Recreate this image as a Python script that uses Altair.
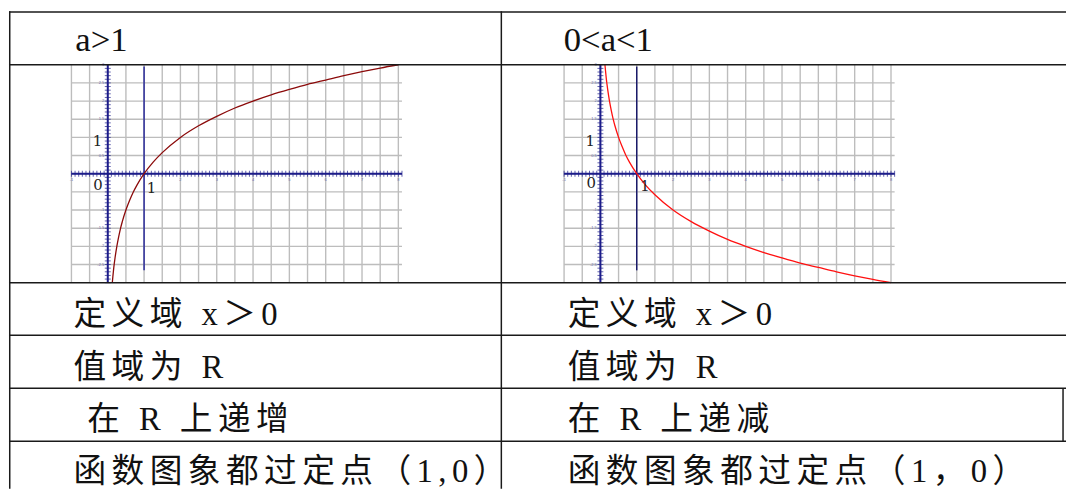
import altair as alt
import pandas as pd

# ---------------- data ----------------
headers = ["a>1", "0<a<1"]
domain_text = ["定义域 x＞0", "定义域 x＞0"]
range_text = ["值域为 R", "值域为 R"]
mono_text = ["在 R 上递增", "在 R 上递减"]
point_text = ["函数图象都过定点（1,0）", "函数图象都过定点（1，0）"]

curve_x = [0.125, 0.14, 0.16, 0.18, 0.2, 0.25, 0.3, 0.35, 0.4, 0.5, 0.6, 0.7, 0.8,
           1.0, 1.25, 1.5, 2.0, 2.5, 3.0, 3.5, 4.0, 4.5, 5.0, 5.5, 6.0, 6.5, 7.0, 7.5, 8.0]
inc_y = [-3.0, -2.84, -2.64, -2.47, -2.32, -2.0, -1.74, -1.51, -1.32, -1.0, -0.74, -0.51, -0.32,
         0.0, 0.32, 0.58, 1.0, 1.32, 1.58, 1.81, 2.0, 2.17, 2.32, 2.46, 2.58, 2.70, 2.81, 2.91, 3.0]
dec_y = [3.0, 2.84, 2.64, 2.47, 2.32, 2.0, 1.74, 1.51, 1.32, 1.0, 0.74, 0.51, 0.32,
         0.0, -0.32, -0.58, -1.0, -1.32, -1.58, -1.81, -2.0, -2.17, -2.32, -2.46, -2.58, -2.70, -2.81, -2.91, -3.0]

x_tick_labels = ["-1", "2", "3", "4", "5", "6", "7", "8"]
x_tick_values = [-1, 2, 3, 4, 5, 6, 7, 8]
y_tick_labels = ["3", "2.5", "2", "1.5", "0.5", "-1", "-1.5", "-2", "-2.5"]
y_tick_values = [3, 2.5, 2, 1.5, 0.5, -1, -1.5, -2, -2.5]

# grid / axis decoration positions (graph units)
grid_x = [i * 0.5 - 1 for i in range(19)]          # -1 .. 8
grid_y = [i * 0.5 - 2.5 for i in range(11)]        # -2.5 .. 2.5
minor_x = [round(-1 + 0.1 * i, 1) for i in range(92)]
minor_y = [round(-3 + 0.1 * i, 1) for i in range(61)]

BODY_FONT = "Liberation Serif, Noto Sans CJK SC"
HEAD_FONT = "Liberation Serif"
SP = "\u2006"

W, H = 1067, 482            # whole page area (px)
PX = 220 / 6.0              # px per graph unit
COL_X = 497                 # column divider
ROW_Y = [54, 274, 327, 380.5, 434]   # horizontal row lines
LINE = "#1a1a1a"


def spaced(s):
    return SP.join(list(s))


def hline(y, x0=0, x1=W):
    return alt.Chart(alt.Data(values=[{}])).mark_rule(color=LINE, strokeWidth=1.5).encode(
        x=alt.value(x0), x2=alt.value(x1), y=alt.value(y))


def vline_px(x, y0=0, y1=H):
    return alt.Chart(alt.Data(values=[{}])).mark_rule(color=LINE, strokeWidth=1.5).encode(
        x=alt.value(x), y=alt.value(y0), y2=alt.value(y1))


def text_at(s, x, y, size=33, font=BODY_FONT):
    return alt.Chart(alt.Data(values=[{"t": s}])).mark_text(
        align="left", baseline="alphabetic", font=font, fontSize=size, color="#111"
    ).encode(x=alt.value(x), y=alt.value(y), text=alt.Text("t:N"))


def graph(ys_data, origin_px, curve_color, vline_color, lbl):
    xmin = -origin_px / PX
    xs = alt.Scale(domain=[xmin, xmin + W / PX], nice=False, zero=False)
    ytop = 3 + ROW_Y[0] / PX
    ysc = alt.Scale(domain=[ytop - H / PX, ytop], nice=False, zero=False)
    X = lambda f: alt.X(f, scale=xs, axis=None)
    Y = lambda f: alt.Y(f, scale=ysc, axis=None)

    vgrid = alt.Chart(pd.DataFrame({"x": grid_x, "y0": -3.0, "y1": 3.0})).mark_rule(
        color="#bdbdbd", strokeWidth=1.4).encode(x=X("x:Q"), y=Y("y0:Q"), y2="y1:Q")
    hgrid = alt.Chart(pd.DataFrame({"y": grid_y, "x0": -1.0, "x1": 8.1})).mark_rule(
        color="#bdbdbd", strokeWidth=1.4).encode(y=Y("y:Q"), x=X("x0:Q"), x2="x1:Q")
    axes = alt.Chart(pd.DataFrame({"x": [-1.0, 0.0], "x2": [8.1, 0.0],
                                   "y": [0.0, -3.0], "y2": [0.0, 3.0]})).mark_rule(
        color="#1c1c8a", strokeWidth=2).encode(x=X("x:Q"), x2="x2:Q", y=Y("y:Q"), y2="y2:Q")
    xt = alt.Chart(pd.DataFrame({"x": minor_x, "y": 0.0})).mark_tick(
        orient="vertical", size=6, thickness=1, color="#1c1c8a").encode(x=X("x:Q"), y=Y("y:Q"))
    yt = alt.Chart(pd.DataFrame({"y": minor_y, "x": 0.0})).mark_tick(
        orient="horizontal", size=6, thickness=1, color="#1c1c8a").encode(x=X("x:Q"), y=Y("y:Q"))
    vline = alt.Chart(pd.DataFrame({"x": [1.0], "y0": [-2.66], "y1": [2.95]})).mark_rule(
        color=vline_color, strokeWidth=1.5).encode(x=X("x:Q"), y=Y("y0:Q"), y2="y1:Q")
    curve = alt.Chart(pd.DataFrame({"x": curve_x, "y": ys_data})).mark_line(
        color=curve_color, strokeWidth=1.3, interpolate="monotone").encode(
        x=X("x:Q"), y=Y("y:Q"), order="x:Q")
    labels = alt.Chart(pd.DataFrame(lbl)).mark_text(
        font="DejaVu Serif", fontSize=15, color="#222", align="center", baseline="middle").encode(
        x=X("x:Q"), y=Y("y:Q"), text="t:N")
    tiny_x = alt.Chart(pd.DataFrame({"x": x_tick_values, "t": x_tick_labels, "y": -0.17})).mark_text(
        fontSize=4, color="#6a6aa8", baseline="middle").encode(x=X("x:Q"), y=Y("y:Q"), text="t:N")
    tiny_y = alt.Chart(pd.DataFrame({"y": y_tick_values, "t": y_tick_labels, "x": -0.1})).mark_text(
        fontSize=4, color="#6a6aa8", align="right", baseline="middle").encode(x=X("x:Q"), y=Y("y:Q"), text="t:N")
    return alt.layer(vgrid, hgrid, tiny_x, tiny_y, vline, axes, xt, yt, curve, labels)


left_labels = {"x": [-0.28, -0.27, 1.2], "y": [0.91, -0.32, -0.39], "t": ["1", "0", "1"]}
right_labels = {"x": [-0.28, -0.25, 1.23], "y": [0.91, -0.27, -0.33], "t": ["1", "0", "1"]}

g_left = graph(inc_y, 99.7, "#8b0a0a", "#2a2a9a", left_labels)
g_right = graph(dec_y, 597.0, "#ff1010", "#1a1a6a", right_labels)

row_baselines = [317, 370, 423, 475]
left_x, right_x = 65, 564

page = [
    text_at(headers[0], 67, 40, size=35, font=HEAD_FONT),
    text_at(headers[1], 560, 40, size=35, font=HEAD_FONT),
    text_at(spaced(domain_text[0]), left_x, row_baselines[0]),
    text_at(spaced(domain_text[1]), right_x, row_baselines[0]),
    text_at(spaced(range_text[0]), left_x, row_baselines[1]),
    text_at(spaced(range_text[1]), right_x, row_baselines[1]),
    text_at(spaced(mono_text[0]), 79, row_baselines[2]),
    text_at(spaced(mono_text[1]), right_x, row_baselines[2]),
    text_at(spaced(point_text[0]), left_x, row_baselines[3]),
    text_at(spaced(point_text[1]), right_x, row_baselines[3]),
    hline(0.75),
]
page += [hline(y) for y in ROW_Y]
page += [vline_px(0.75), vline_px(COL_X), vline_px(1064, ROW_Y[3], ROW_Y[4])]

chart = alt.layer(g_left, g_right, *page).resolve_scale(
    x="independent", y="independent"
).properties(
    width=W, height=H, padding=0, background="white"
).configure_view(stroke=None)

chart.save("out.html", embed_options={"renderer": "svg", "actions": False})
